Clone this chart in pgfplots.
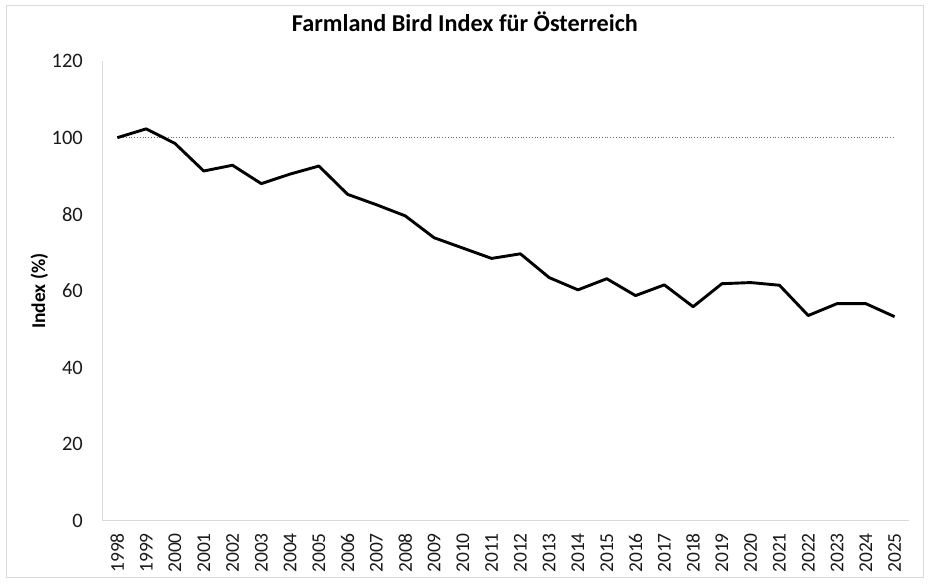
\documentclass[border=0pt]{standalone}
\usepackage{fontspec}
\setmainfont{Carlito}
\usepackage{pgfplots}
\pgfplotsset{compat=1.18}
\definecolor{axgray}{HTML}{D9D9D9}
\begin{document}
\begin{tikzpicture}
\path[use as bounding box] (-103pt,-65pt) rectangle (827pt,521pt);
\draw[axgray, line width=1pt] (-96pt,-57pt) rectangle (820pt,515pt);
\begin{axis}[
  at={(0pt,0pt)}, anchor=south west,
  scale only axis, width=806pt, height=460pt,
  xmin=-0.5, xmax=27.5, ymin=0, ymax=120,
  ytick={0,20,...,120},
  xtick={0,...,27},
  xticklabels={1998,1999,2000,2001,2002,2003,2004,2005,2006,2007,2008,2009,2010,2011,2012,2013,2014,2015,2016,2017,2018,2019,2020,2021,2022,2023,2024,2025},
  axis x line*=bottom, axis y line*=left,
  axis line style={draw=axgray, line width=1pt},
  major tick length=0pt,
  /pgf/number format/assume math mode=true,
  yticklabel style={font=\fontsize{20.5}{20.5}\selectfont, color=black!90, inner sep=0pt, anchor=east, xshift=-20pt},
  xticklabel style={font=\fontsize{19.5}{19.5}\selectfont, color=black!90, yshift=-12pt, rotate=90, anchor=east, inner sep=0pt},
  ylabel={Index (\%)},
  ylabel style={font=\bfseries\fontsize{19.5}{19.5}\selectfont, at={(axis description cs:-0.079,0.5)}, anchor=center, rotate=0},
  title={Farmland Bird Index für Österreich},
  title style={font=\bfseries\fontsize{24.2}{24.2}\selectfont, at={(axis description cs:0.449,1.05)}, anchor=base},
  clip=false,
]
\addplot[gray!80!black, line width=0.8pt, dotted] coordinates {(0,100) (27,100)};
\addplot[black, line width=2.9pt, line join=round] coordinates {
(0,100.0) (1,102.3) (2,98.5) (3,91.3) (4,92.8) (5,88.0) (6,90.5) (7,92.6)
(8,85.2) (9,82.5) (10,79.6) (11,73.9) (12,71.2) (13,68.5) (14,69.7) (15,63.5)
(16,60.3) (17,63.2) (18,58.8) (19,61.6) (20,55.9) (21,61.9) (22,62.2) (23,61.5)
(24,53.6) (25,56.7) (26,56.7) (27,53.3)
};
\end{axis}
\end{tikzpicture}
\end{document}
